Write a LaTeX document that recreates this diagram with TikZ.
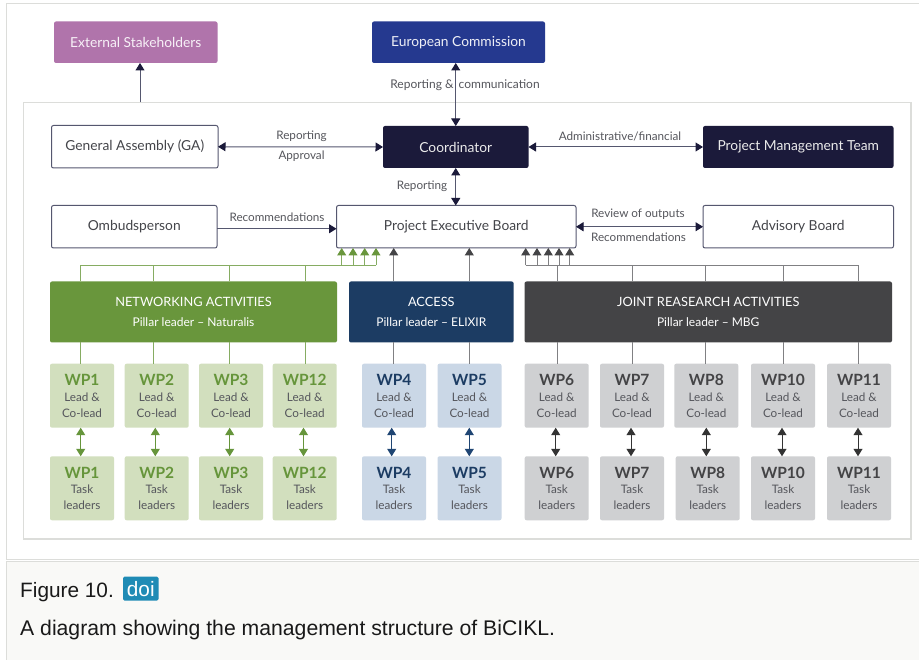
\documentclass[tikz,border=0pt]{standalone}
\usepackage{fontspec}
\setmainfont{Lato}
\newfontfamily\capfont{Liberation Sans}
\usetikzlibrary{arrows.meta}
\definecolor{navy}{HTML}{1B1A3A}
\definecolor{edgecol}{HTML}{55576F}
\definecolor{tipcol}{HTML}{1B1A3A}
\definecolor{labelcol}{HTML}{55565C}
\definecolor{frame}{HTML}{DCDDDA}
\definecolor{purp}{HTML}{B074AB}
\definecolor{eublue}{HTML}{25398F}
\definecolor{natgreen}{HTML}{69963C}
\definecolor{accblue}{HTML}{1C3C63}
\definecolor{jointgrey}{HTML}{444446}
\definecolor{lgreen}{HTML}{D2DFBE}
\definecolor{lblue}{HTML}{CAD7E6}
\definecolor{lgrey}{HTML}{CFD0D2}
\definecolor{tgreen}{HTML}{66953B}
\definecolor{tblue}{HTML}{1C3C63}
\definecolor{tgrey}{HTML}{444446}
\definecolor{arrowblue}{HTML}{1F4573}
\definecolor{greenline}{HTML}{86AC62}
\definecolor{greyline}{HTML}{808083}
\definecolor{capbg}{HTML}{F9F9F7}
\definecolor{doibg}{HTML}{1F8BB5}
\tikzset{
  x=1pt,y=-1pt,
  box/.style={rounded corners=2pt,inner sep=0pt,outer sep=0pt,align=center,font=\fontsize{13.8}{16}\selectfont},
  plainbox/.style={box,draw=edgecol,line width=1pt,fill=white,text=labelcol!80!black},
  darkbox/.style={box,fill=navy,text=white!92!black},
  pillarbox/.style={box,text=white,font=\fontsize{12.8}{15}\selectfont},
  wpbox/.style={box,text=labelcol},
  elabel/.style={text=labelcol,inner sep=0pt,font=\fontsize{11.7}{13}\selectfont},
  bigtip/.tip={Triangle[width=9pt,length=7.5pt]},
  conn/.style={draw=edgecol,line width=1pt,-{Triangle[width=9pt,length=7.5pt,color=tipcol]}},
  dconn/.style={draw=edgecol,line width=1pt,{Triangle[width=9pt,length=7.5pt,color=tipcol]}-{Triangle[width=9pt,length=7.5pt,color=tipcol]}},
  gup/.style={draw=greenline,line width=1pt,-{Triangle[width=9pt,length=7.5pt,color=natgreen]}},
  kup/.style={draw=greyline,line width=1pt,-{Triangle[width=9pt,length=7.5pt,color=jointgrey]}},
  gline/.style={draw=greenline,line width=1pt},
  kline/.style={draw=greyline,line width=1pt},
  wpconn/.style={draw=#1,line width=1pt,{Triangle[width=9pt,length=7.5pt]}-{Triangle[width=9pt,length=7.5pt]}},
}
% style, name, x1, y1, x2, y2, text
\newcommand{\bx}[7]{\node[#1,minimum width={(#5-#3)*1pt},minimum height={(#6-#4)*1pt}] (#2) at ({(#3+#5)/2},{(#4+#6)/2}) {#7};}
% WP box: name, x1, y1, fill, wp colour, wp, line1, line2
\newcommand{\wpnode}[8]{\node[wpbox,fill=#4,minimum width=64pt,minimum height=64pt] (#1) at ({#2+32},{#3+32}) {{\fontsize{15.5}{18}\selectfont\bfseries\color{#5}#6}\\[-0.5pt]{\fontsize{11.7}{14.5}\selectfont #7}\\{\fontsize{11.7}{14.5}\selectfont #8}};}
\begin{document}
\begin{tikzpicture}
\useasboundingbox[fill=white] (0,0) rectangle (919,660);
% page panels
\path[draw=frame,line width=1pt] (919,4) -- (6,4) -- (6,559.5) -- (919,559.5);
\path[fill=capbg,draw=frame,line width=1pt] (6.5,561.5) rectangle (925,665);
\path[draw=frame,line width=1.2pt,fill=white] (23.5,102.5) rectangle (911,539);
% top boxes
\bx{box,fill=purp,text=white!90!purp}{ext}{54}{21.5}{217.5}{63}{External Stakeholders}
\bx{box,fill=eublue,text=white!92!eublue}{ec}{372}{21.5}{545}{63}{European Commission}
\bx{plainbox}{ga}{51.5}{125.5}{218}{168}{General Assembly (GA)}
\bx{darkbox}{coord}{383}{126}{528.5}{168}{Coordinator}
\bx{darkbox}{pmt}{703}{126}{893.5}{168}{Project Management Team}
\bx{plainbox}{omb}{51.5}{205.5}{217}{248}{Ombudsperson}
\bx{plainbox}{peb}{336.5}{205.5}{576}{248}{Project Executive Board}
\bx{plainbox}{adv}{703}{205.5}{893.5}{248}{Advisory Board}
% pillars
\bx{pillarbox,fill=natgreen}{net}{50}{281.5}{337}{342.5}{NETWORKING ACTIVITIES\\[4.5pt]{\fontsize{12}{13}\selectfont Pillar leader -- Naturalis}}
\bx{pillarbox,fill=accblue}{acc}{349}{281.5}{513.7}{342.5}{ACCESS\\[4.5pt]{\fontsize{12}{13}\selectfont Pillar leader -- ELIXIR}}
\bx{pillarbox,fill=jointgrey}{joint}{524.5}{281.5}{892}{342.5}{JOINT REASEARCH ACTIVITIES\\[4.5pt]{\fontsize{12}{13}\selectfont Pillar leader -- MBG}}
% WP boxes
\foreach \n/\lx/\tx/\fc/\tc/\ll/\cx/\ax in {
  1/50/50/lgreen/tgreen/greenline/80/80.7,
  2/124.7/124.7/lgreen/tgreen/greenline/153/155.3,
  3/199/199/lgreen/tgreen/greenline/229/229.7,
  12/272.7/272.7/lgreen/tgreen/greenline/305/303.5,
  4/362/362/lblue/tblue/greyline/393.7/391.7,
  5/437.5/437.5/lblue/tblue/greyline/469.3/469.3,
  6/524.7/524.7/lgrey/tgrey/greyline/557/555.7,
  7/600/600/lgrey/tgrey/greyline/632.3/631,
  8/674.3/675.7/lgrey/tgrey/greyline/705/706.3,
  10/751/751/lgrey/tgrey/greyline/783/782,
  11/827/827/lgrey/tgrey/greyline/858.3/858}{
  \wpnode{lead\n}{\lx}{363.7}{\fc}{\tc}{WP\n}{Lead \&}{Co-lead}
  \wpnode{task\n}{\tx}{456.3}{\fc}{\tc}{WP\n}{Task}{leaders}
  \coordinate (pl\n) at (\cx,265.5);
  \coordinate (da\n) at (\ax,442);
  \draw[draw=\ll,line width=1pt] (lead\n.north -| pl\n) -- (\cx,342.5);
  \draw[draw=\ll,line width=1pt] (\cx,281.5) -- (\cx,265.5);
}
\foreach \n in {1,2,3,12}{
  \draw[wpconn=tgreen] (lead\n.south -| da\n) -- (task\n.north -| da\n);}
\foreach \n in {4,5}{
  \draw[wpconn=arrowblue] (lead\n.south -| da\n) -- (task\n.north -| da\n);}
\foreach \n in {6,7,8,10,11}{
  \draw[wpconn=black!80] (lead\n.south -| da\n) -- (task\n.north -| da\n);}
% buses
\coordinate (gbusend) at (376,265.5);
\draw[gline] (pl1) -- (gbusend);
\foreach \i/\x in {a/341.7,b/353,c/364.7,d/376}{
  \coordinate (gb\i) at (\x,265.5);
  \draw[gup] (gb\i) -- (peb.south -| gb\i);}
\coordinate (kbusstart) at (525.7,265.5);
\draw[kline] (kbusstart) -- (pl11);
\foreach \i/\x in {a/525.7,b/537,c/548.3,d/559,e/569.7}{
  \coordinate (kb\i) at (\x,265.5);
  \draw[kup] (kb\i) -- (peb.south -| kb\i);}
\draw[kup] (acc.north -| pl4) -- (peb.south -| pl4);
\draw[kup] (acc.north -| pl5) -- (peb.south -| pl5);
% upper connectors
\coordinate (frametop) at (140,102.5);
\draw[conn] (frametop) -- (ext.south -| frametop);
\draw[dconn] (ec.south -| coord) -- (coord.north);
\draw[dconn] (coord.south) -- (peb.north -| coord);
\draw[dconn] (ga.east) -- (coord.west);
\draw[dconn] (coord.east) -- (pmt.west);
\draw[conn] ([yshift=-2pt]omb.east) -- ([yshift=-2pt]peb.west);
\draw[dconn] (peb.east) -- (adv.west);
% labels
\node[elabel,font=\fontsize{12}{13}\selectfont] (l1) at (465,85.5) {Reporting \& \hspace{2pt}communication};
\node[elabel] (l2) at (301.5,136) {Reporting};
\node[elabel] (l3) at (301.5,156) {Approval};
\node[elabel] (l4) at (620,136) {Administrative/financial};
\node[elabel] (l5) at (422,186) {Reporting};
\node[elabel] (l6) at (277,217) {Recommendations};
\node[elabel] (l7) at (638,214) {Review of outputs};
\node[elabel] (l8) at (638.5,237.5) {Recommendations};
% caption
\node[anchor=base west,inner sep=0pt,text=black!90,font=\capfont\fontsize{20.8}{24}\selectfont] (figlab) at (20,597) {Figure 10.};
\node[fill=doibg,text=white,rounded corners=1.5pt,inner sep=0pt,minimum width=35.5pt,minimum height=24pt,font=\capfont\fontsize{20.8}{24}\selectfont] (doi) at (140.75,588.7) {doi};
\node[anchor=base west,inner sep=0pt,text=black!90,font=\capfont\fontsize{21.2}{24}\selectfont] (captext) at (20,635) {A diagram showing the management structure of BiCIKL.};
\end{tikzpicture}
\end{document}
